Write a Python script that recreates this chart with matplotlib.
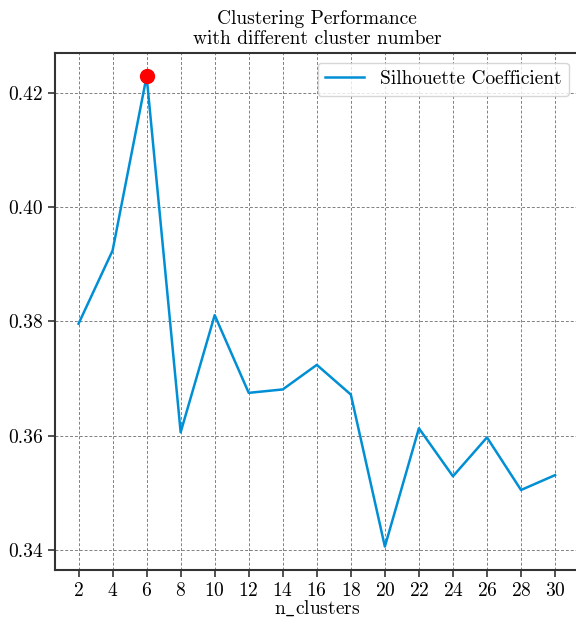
import matplotlib
matplotlib.use("Agg")
import matplotlib.pyplot as plt

plt.rcParams['font.family'] = ['cmr10', 'DejaVu Serif']
plt.rcParams['mathtext.fontset'] = 'cm'
plt.rcParams['axes.unicode_minus'] = False
plt.rcParams['axes.formatter.use_mathtext'] = True

# datos
n_clusters = [2, 4, 6, 8, 10, 12, 14, 16, 18, 20, 22, 24, 26, 28, 30]
silhouette = [0.3796, 0.3924, 0.4229, 0.3606, 0.3811, 0.3675, 0.3681, 0.3724,
              0.3672, 0.3406, 0.3613, 0.3529, 0.3597, 0.3505, 0.3531]
titulo = "Clustering Performance\nwith different cluster number"

mejor = silhouette.index(max(silhouette))

fig = plt.figure(figsize=(5.76, 6.21), dpi=100)
ax = fig.add_axes([0.095, 0.082, 0.91, 0.833])

ax.plot(n_clusters, silhouette, color='#008fd5', linewidth=1.8, label='Silhouette Coefficient')
ax.plot(n_clusters[mejor], silhouette[mejor], 'o', color='red', markersize=10)

ax.set_xticks(n_clusters)
ax.set_yticks([0.34, 0.36, 0.38, 0.40, 0.42])
ax.set_yticklabels(["0.34", "0.36", "0.38", "0.40", "0.42"])
ax.tick_params(labelsize=14, length=5, width=1.2, color='#333333')
ax.grid(True, linestyle=(0, (3, 2)), color='#808080', linewidth=0.7)

for s in ax.spines.values():
    s.set_color('#333333')
    s.set_linewidth(1.5)

ax.set_xlabel(r"$\mathrm{n\_clusters}$", fontsize=14, labelpad=-1)
ax.set_title(titulo, fontsize=14)
ax.legend(loc='upper right', fontsize=14, framealpha=0.8, edgecolor='#cccccc')

plt.savefig("out.png", dpi=100)
